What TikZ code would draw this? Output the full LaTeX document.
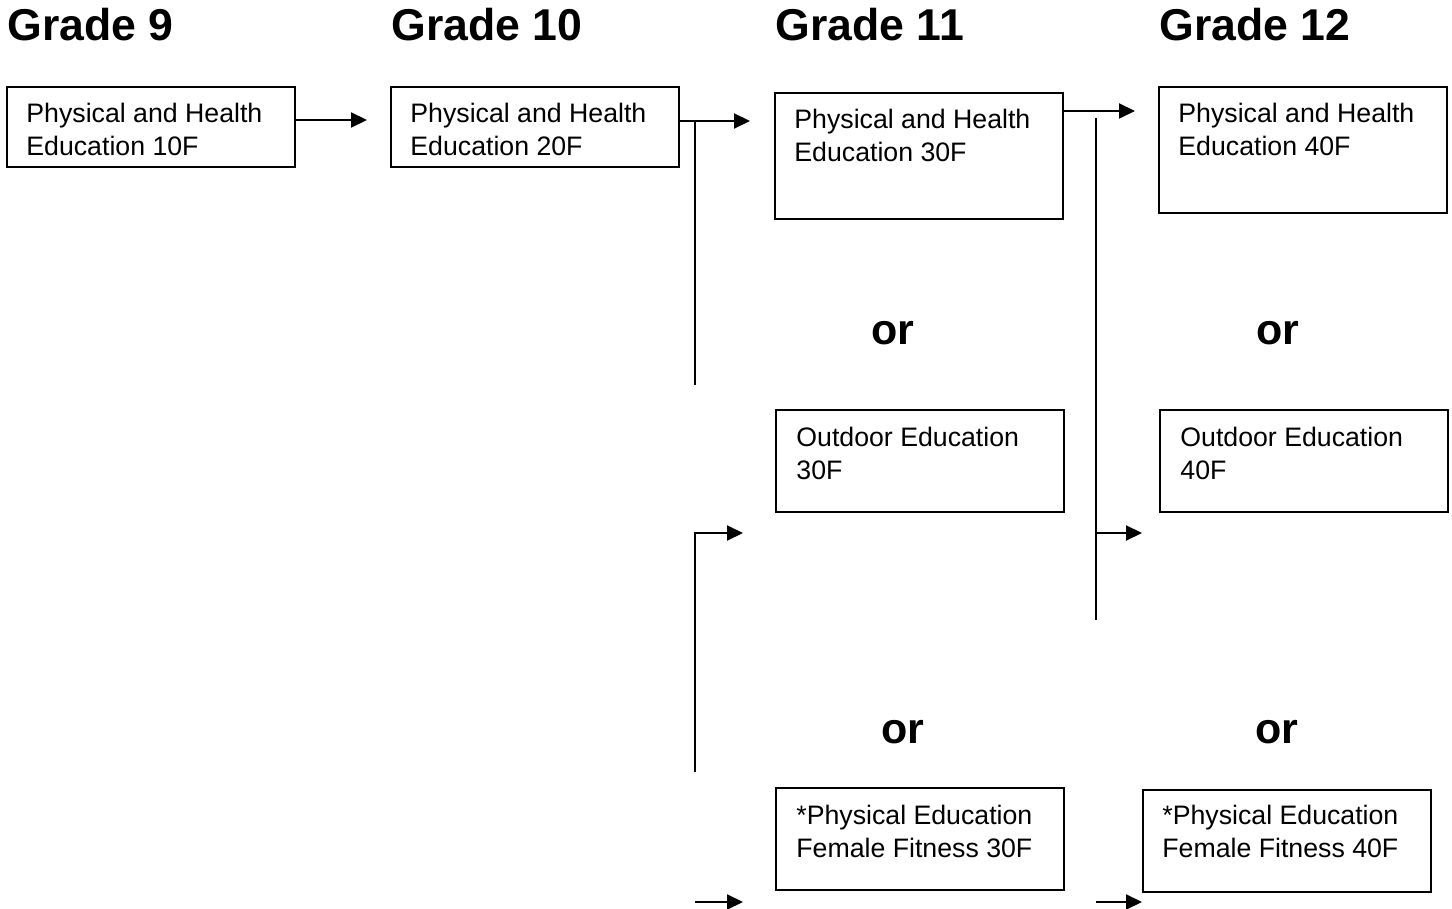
\documentclass[tikz,border=0pt]{standalone}
\usepackage{fontspec}
\setmainfont{Liberation Sans}
\usetikzlibrary{arrows.meta,calc}
\begin{document}
\begin{tikzpicture}[x=0.5pt,y=-0.5pt,
  box/.style={draw,line width=1pt,anchor=north west,inner sep=0pt,outer sep=0pt},
  txt/.style={anchor=north west,inner sep=0pt,align=left,font=\fontsize{13.35}{16.5}\selectfont},
  head/.style={anchor=base west,inner sep=0pt,font=\fontsize{22.3}{24}\selectfont\bfseries},
  ortxt/.style={anchor=base,inner sep=0pt,font=\fontsize{21.5}{24}\selectfont\bfseries},
  conn/.style={line width=1pt},
  arr/.style={line width=1pt,-{Triangle[length=8pt,width=7.5pt]}}]
\useasboundingbox (0,0) rectangle (1452,909);
% headings
\node[head] (h9) at (7,41) {Grade 9};
\node[head] (h10) at (391,41) {Grade 10};
\node[head] (h11) at (775,41) {Grade 11};
\node[head] (h12) at (1159,41) {Grade 12};
% boxes
\node[box,minimum width=144pt,minimum height=40pt] (b9) at (7,87) {};
\node[box,minimum width=144pt,minimum height=40pt] (b10) at (391,87) {};
\node[box,minimum width=144pt,minimum height=63pt] (b11a) at (775,93) {};
\node[box,minimum width=144pt,minimum height=63pt] (b12a) at (1159,87) {};
\node[box,minimum width=144pt,minimum height=51pt] (b11b) at (776,410) {};
\node[box,minimum width=144pt,minimum height=51pt] (b12b) at (1160,410) {};
\node[box,minimum width=144pt,minimum height=51pt] (b11c) at (776,788) {};
\node[box,minimum width=144pt,minimum height=51pt] (b12c) at (1143,790) {};
% texts
\node[txt] (t9) at (26,103) {Physical and Health\\Education 10F};
\node[txt] (t10) at (410,103) {Physical and Health\\Education 20F};
\node[txt] (t11a) at (794,109) {Physical and Health\\Education 30F};
\node[txt] (t12a) at (1178,103) {Physical and Health\\Education 40F};
\node[txt] (t11b) at (796,427) {Outdoor Education\\30F};
\node[txt] (t12b) at (1180,427) {Outdoor Education\\40F};
\node[txt] (t11c) at (796,805) {*Physical Education\\Female Fitness 30F};
\node[txt] (t12c) at (1162,805) {*Physical Education\\Female Fitness 40F};
% or
\node[ortxt] (or1) at (893,345) {or};
\node[ortxt] (or2) at (1278,345) {or};
\node[ortxt] (or3) at (903,743) {or};
\node[ortxt] (or4) at (1277,743) {or};
% coordinates
\coordinate (a1) at (295,120);
\coordinate (e1) at (367,120);
\coordinate (a2) at (679,121);
\coordinate (e2) at (750,121);
\coordinate (j2) at (695,121);
\coordinate (v2) at (695,385);
\coordinate (v3t) at (695,533);
\coordinate (v3b) at (695,772);
\coordinate (e3) at (743,533);
\coordinate (s4) at (695,902);
\coordinate (e4) at (743,902);
\coordinate (a5) at (1063,111);
\coordinate (e5) at (1135,111);
\coordinate (v5t) at (1096,118);
\coordinate (v5b) at (1096,620);
\coordinate (j6) at (1096,533);
\coordinate (e6) at (1142,533);
\coordinate (s7) at (1096,902);
\coordinate (e7) at (1142,902);
% connectors
\draw[arr] (a1) -- (e1);
\draw[arr] (a2) -- (e2);
\draw[conn] (j2) -- (v2);
\draw[arr] (v3b) -- (v3t) -- (e3);
\draw[arr] (s4) -- (e4);
\draw[arr] (a5) -- (e5);
\draw[conn] (v5t) -- (v5b);
\draw[arr] (j6) -- (e6);
\draw[arr] (s7) -- (e7);
\end{tikzpicture}
\end{document}
